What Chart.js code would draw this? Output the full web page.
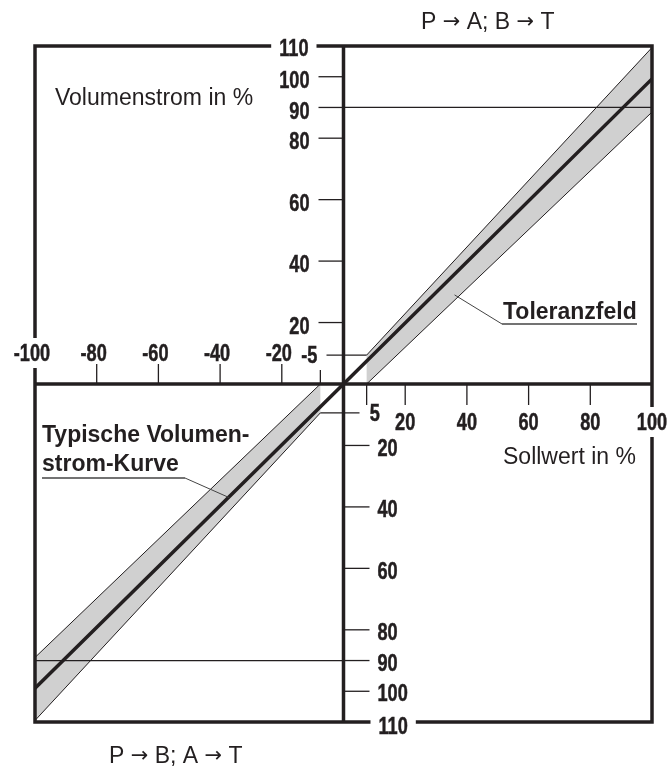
<!DOCTYPE html>
<html>
<head>
<meta charset="utf-8">
<script src="https://cdn.jsdelivr.net/npm/chart.js@4.4.1/dist/chart.umd.min.js"></script>
<style>
  html, body { margin: 0; background: #fff; }
  canvas { display: block; }
</style>
</head>
<body>
<canvas id="chart" width="667" height="767"></canvas>
<script>
const ink = '#231f20';

// tick marks on the crossed axes
const xTicksNeg = [-100, -80, -60, -40, -20];
const xTicksPos = [20, 40, 60, 80, 100];
const yTicksPos = [100, 90, 80, 60, 40, 20];
const yTicksNeg = [-20, -40, -60, -80, -90, -100];
const yLimit = 110;
// the "5" marks (drawn wider than scale in the original)
const deadX = 7.5;
const deadY = 9.4;

// typical flow curve
const curveX = [-100, 0, 100];
const curveY = [-99, 0, 99.3];

// tolerance field, P->A quadrant and P->B quadrant
const tolPosX = [7.5, 7.5, 100, 100, 7.5];
const tolPosY = [0, 9.4, 109.5, 88.5, 0];
const tolNegX = [-7.5, -7.5, -100, -100, -7.5];
const tolNegY = [0, -9.4, -109.5, -89, 0];

// 90 % reference lines
const refPosX = [0, 100];
const refNegX = [-100, 0];
const refLevel = 90;

const pts = (xs, ys) => xs.map((x, i) => ({ x, y: ys[i] }));
const pick = (xs, ys, idx) => idx.map(i => ({ x: xs[i], y: ys[i] }));

const crossAxes = {
  id: 'crossAxes',
  afterDraw(chart) {
    const { ctx, chartArea: a, scales: { x, y } } = chart;
    const X = v => x.getPixelForValue(v);
    const Y = v => y.getPixelForValue(v);
    const x0 = X(0), y0 = Y(0);

    const seg = (x1, y1, x2, y2, w) => {
      ctx.lineWidth = w;
      ctx.beginPath(); ctx.moveTo(x1, y1); ctx.lineTo(x2, y2); ctx.stroke();
    };

    ctx.save();
    ctx.strokeStyle = ink;
    ctx.lineCap = 'butt';

    // frame + axes
    ctx.lineWidth = 3.5;
    ctx.strokeRect(a.left, a.top, a.right - a.left, a.bottom - a.top);
    seg(x0, a.top, x0, a.bottom, 3.5);
    seg(a.left, y0, a.right, y0, 3.5);

    // ticks
    yTicksPos.forEach(v => seg(x0 - 25, Y(v), x0, Y(v), 1.3));
    yTicksNeg.forEach(v => seg(x0, Y(v), x0 + 26, Y(v), 1.3));
    xTicksNeg.slice(1).forEach(v => seg(X(v), y0 - 20, X(v), y0, 1.3));
    xTicksPos.slice(0, -1).forEach(v => seg(X(v), y0, X(v), y0 + 21, 1.3));
    seg(x0 - 17, Y(deadY), X(deadX), Y(deadY), 1.3);
    seg(X(-deadX), Y(-deadY), x0 + 16, Y(-deadY), 1.3);
    seg(X(-deadX), y0 - 14, X(-deadX), y0, 1.3);
    seg(X(deadX), y0, X(deadX), y0 + 21, 1.3);

    // tick labels, condensed bold
    const num = (str, px, py, align, bg) => {
      ctx.save();
      ctx.font = 'bold 23px "Liberation Sans", Arial, sans-serif';
      const sx = 0.79;
      const w = ctx.measureText(str).width * sx;
      let left;
      if (align === 'left') left = px;
      else if (align === 'right') left = px - w;
      else if (align === 'digits') {
        const wd = ctx.measureText(str.replace('-', '')).width * sx;
        left = px - wd / 2 - (w - wd);
      } else left = px - w / 2;
      if (bg) {
        ctx.fillStyle = '#fff';
        ctx.fillRect(left - 8, py - 15, w + 16, 30);
      }
      ctx.translate(left, py + 8.2);
      ctx.scale(sx, 1);
      ctx.fillStyle = ink;
      ctx.strokeStyle = ink;
      ctx.lineWidth = 0.5;
      ctx.textAlign = 'left';
      ctx.fillText(str, 0, 0);
      ctx.strokeText(str, 0, 0);
      ctx.restore();
    };

    yTicksPos.forEach(v => num(String(v), x0 - 34, Y(v) + 3, 'right'));
    num(String(yLimit), x0 - 35, Y(yLimit) + 2, 'right', true);
    yTicksNeg.forEach(v => num(String(-v), x0 + 34, Y(v) + 2, 'left'));
    num(String(yLimit), x0 + 35, Y(-yLimit) + 4, 'left', true);
    xTicksNeg.forEach((v, i) => num(String(v), X(v), y0 - 31, 'digits', i === 0));
    xTicksPos.forEach((v, i) => num(String(v), X(v), y0 + 38, 'center', i === xTicksPos.length - 1));
    num('-5', X(-deadX) - 3, Y(deadY), 'right');
    num('5', X(deadX) + 3, Y(-deadY), 'left');

    // captions
    const txt = (str, px, py, bold) => {
      ctx.font = (bold ? 'bold ' : '') + '23px "Liberation Sans", Arial, sans-serif';
      ctx.fillStyle = ink;
      ctx.textAlign = 'left';
      ctx.fillText(str, px, py + 8.2);
    };
    // caption with larger arrow glyphs
    const flow = (parts, px, py) => {
      let cx = px;
      parts.forEach(p => {
        ctx.font = p === '\u2192' ? '21px "DejaVu Sans", sans-serif' : '23px "Liberation Sans", Arial, sans-serif';
        ctx.fillStyle = ink;
        ctx.textAlign = 'left';
        ctx.fillText(p, cx, py + 8.2 + (p === '\u2192' ? -1 : 0));
        cx += ctx.measureText(p).width;
      });
    };
    flow(['P ', '\u2192', ' A; B ', '\u2192', ' T'], 421, 20.5);
    flow(['P ', '\u2192', ' B; A ', '\u2192', ' T'], 109, 755);
    txt('Volumenstrom in %', 55, 97);
    txt('Sollwert in %', 503, 456);
    txt('Toleranzfeld', 503, 311, true);
    txt('Typische Volumen-', 42, 434, true);
    txt('strom-Kurve', 42, 463, true);

    // leaders
    ctx.strokeStyle = '#444';
    seg(502, 324, 637, 324, 1.5);
    seg(502, 324, X(36), Y(29), 1);
    seg(42, 478, 185, 478, 1.5);
    seg(185, 478, X(-37), Y(-37), 1);

    ctx.restore();
  }
};

new Chart(document.getElementById('chart'), {
  type: 'line',
  data: {
    datasets: [
      { data: pts(curveX, curveY), borderColor: ink, borderWidth: 3.5, order: 0 },
      { data: pick(tolPosX, tolPosY, [1, 2]), borderColor: ink, borderWidth: 1, order: 1 },
      { data: pick(tolPosX, tolPosY, [0, 3]), borderColor: ink, borderWidth: 1, order: 1 },
      { data: pick(tolNegX, tolNegY, [1, 2]), borderColor: ink, borderWidth: 1, order: 1 },
      { data: pick(tolNegX, tolNegY, [0, 3]), borderColor: ink, borderWidth: 1, order: 1 },
      { data: pts(refPosX, refPosX.map(() => refLevel)), borderColor: ink, borderWidth: 1.3, order: 2 },
      { data: pts(refNegX, refNegX.map(() => -refLevel)), borderColor: ink, borderWidth: 1.3, order: 2 },
      { data: pts(tolPosX, tolPosY), borderWidth: 0, borderColor: 'rgba(0,0,0,0)', backgroundColor: '#d0d0d0', fill: 'shape', order: 3 },
      { data: pts(tolNegX, tolNegY), borderWidth: 0, borderColor: 'rgba(0,0,0,0)', backgroundColor: '#d0d0d0', fill: 'shape', order: 3 }
    ]
  },
  options: {
    responsive: false,
    animation: false,
    devicePixelRatio: 1,
    layout: { padding: { left: 35, right: 15, top: 46, bottom: 45 } },
    elements: { point: { radius: 0 }, line: { tension: 0 } },
    plugins: { legend: { display: false }, tooltip: { enabled: false } },
    scales: {
      x: { type: 'linear', min: -100, max: 100, display: false },
      y: { type: 'linear', min: -yLimit, max: yLimit, display: false }
    }
  },
  plugins: [crossAxes]
});
</script>
</body>
</html>
